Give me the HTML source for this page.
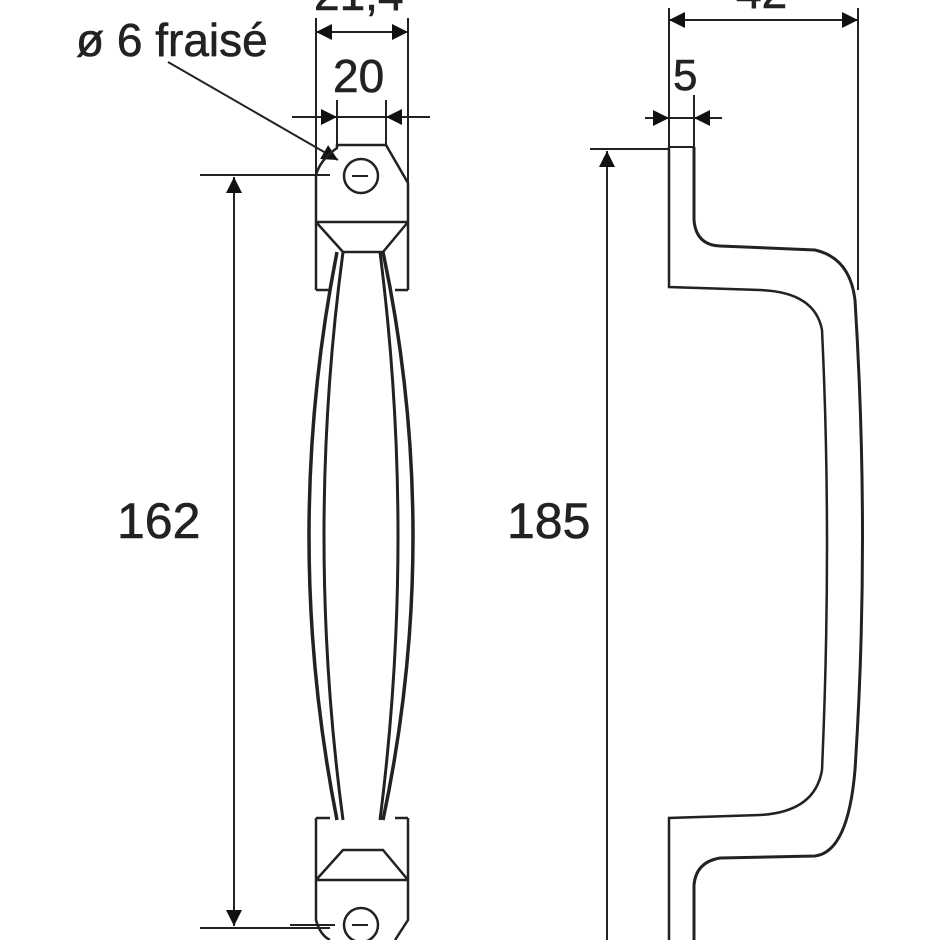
<!DOCTYPE html>
<html><head><style>
html,body{margin:0;padding:0;background:#fff;}
svg{display:block;}
text{font-family:"Liberation Sans",Arial,sans-serif;fill:#222;}
</style></head><body>
<svg width="940" height="940" viewBox="0 0 940 940" xmlns="http://www.w3.org/2000/svg">
<defs>
<marker id="a" viewBox="0 0 10 10" refX="10" refY="5" markerWidth="24" markerHeight="16" markerUnits="userSpaceOnUse" orient="auto-start-reverse">
<path d="M0,0 L10,5 L0,10 z" fill="#111"/></marker>
</defs>
<g fill="none" stroke="#222" stroke-width="2">
<!-- LEFT VIEW dims -->
<line x1="316" y1="18" x2="316" y2="175"/>
<line x1="408" y1="18" x2="408" y2="222"/>
<line x1="316" y1="32" x2="408" y2="32" marker-start="url(#a)" marker-end="url(#a)"/>
<line x1="337" y1="100" x2="337" y2="145"/>
<line x1="386" y1="100" x2="386" y2="145"/>
<line x1="292" y1="117" x2="337" y2="117" marker-end="url(#a)"/>
<line x1="430" y1="117" x2="386" y2="117" marker-end="url(#a)"/>
<line x1="337" y1="117" x2="386" y2="117"/>
<line x1="168" y1="62" x2="338" y2="160" marker-end="url(#a)"/>
<line x1="200" y1="175" x2="330" y2="175"/>
<line x1="200" y1="928" x2="330" y2="928"/>
<line x1="234" y1="177" x2="234" y2="926" marker-start="url(#a)" marker-end="url(#a)"/>
<!-- head top -->
<path d="M316,290 L316,175 Q320,160 337,148 L337,145 L386,145 L408,183 L408,290" stroke-width="2.5"/>
<line x1="316" y1="222" x2="408" y2="222" stroke-width="2.5"/>
<path d="M316,222 L343,252 L383,252 L408,222" stroke-width="2.5"/>
<path d="M316,290 L330,290 M395,290 L408,290" stroke-width="2.5"/>
<circle cx="361" cy="176" r="17" stroke-width="2.5"/>
<line x1="352" y1="176" x2="368" y2="176"/>
<!-- bar -->
<path d="M337,252 Q281,536 337,820" stroke-width="3.5"/>
<path d="M343,252 Q305,536 343,820" stroke-width="3"/>
<path d="M383,252 Q443,536 383,820" stroke-width="3.5"/>
<path d="M380,252 Q416,536 380,820" stroke-width="3"/>
<!-- head bottom -->
<path d="M316,818 L316,920 Q320,935 330,940 M408,818 L408,920 L395,940" stroke-width="2.5"/>
<path d="M316,818 L330,818 M395,818 L408,818" stroke-width="2.5"/>
<line x1="316" y1="880" x2="408" y2="880" stroke-width="2.5"/>
<path d="M316,880 L343,850 L383,850 L408,880" stroke-width="2.5"/>
<circle cx="361" cy="925" r="17" stroke-width="2.5"/>
<line x1="352" y1="925" x2="368" y2="925"/>
<line x1="290" y1="925" x2="335" y2="925"/>

<!-- RIGHT VIEW -->
<line x1="669" y1="8" x2="669" y2="147"/>
<line x1="858" y1="8" x2="858" y2="290"/>
<line x1="669" y1="20" x2="858" y2="20" marker-start="url(#a)" marker-end="url(#a)"/>
<line x1="694" y1="95" x2="694" y2="147"/>
<line x1="645" y1="118" x2="669" y2="118" marker-end="url(#a)"/>
<line x1="722" y1="118" x2="694" y2="118" marker-end="url(#a)"/>
<line x1="669" y1="118" x2="694" y2="118"/>
<line x1="590" y1="149" x2="669" y2="149"/>
<line x1="607" y1="151" x2="607" y2="940" marker-start="url(#a)"/>
<path d="M669,147 L694,147" />
<path d="M669,147 L669,287 L760,290 Q815,292 822,330 Q832,540 822,770 Q815,812 760,815 L669,818 L669,940" stroke-width="2.5"/>
<path d="M694,147 L694,220 Q696,245 720,246 L815,250 Q850,258 855,300 Q870,540 855,770 Q848,852 815,856 L720,858 Q696,862 694,885 L694,940" stroke-width="3"/>
</g>
<g stroke="#222" stroke-width="0.6">
<text x="76" y="56" font-size="46">ø 6 fraisé</text>
<text x="333" y="92" font-size="46">20</text>
<text x="314" y="10" font-size="46">21,4</text>
<text x="736" y="8" font-size="46">42</text>
<text x="673" y="90" font-size="44">5</text>
<text x="117" y="538" font-size="50">162</text>
<text x="507" y="538" font-size="50">185</text>
</g>
</svg>
</body></html>
